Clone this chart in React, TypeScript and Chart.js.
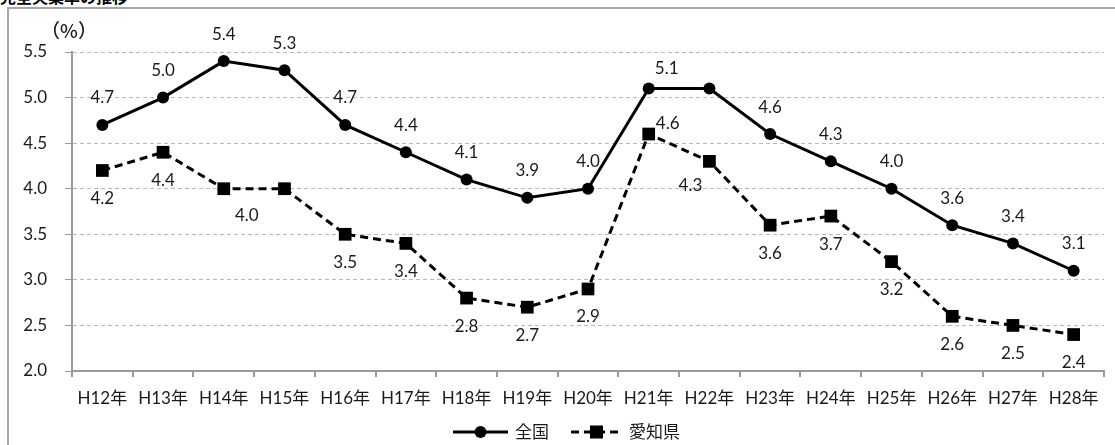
import React, { useEffect, useRef } from "react";
import { Chart, registerables } from "chart.js";

Chart.register(...registerables);

const categories = ["H12年", "H13年", "H14年", "H15年", "H16年", "H17年", "H18年", "H19年", "H20年", "H21年", "H22年", "H23年", "H24年", "H25年", "H26年", "H27年", "H28年"];
const nationalValues = [4.7, 5.0, 5.4, 5.3, 4.7, 4.4, 4.1, 3.9, 4.0, 5.1, 5.1, 4.6, 4.3, 4.0, 3.6, 3.4, 3.1];
const aichiValues = [4.2, 4.4, 4.0, 4.0, 3.5, 3.4, 2.8, 2.7, 2.9, 4.6, 4.3, 3.6, 3.7, 3.2, 2.6, 2.5, 2.4];
const nationalLabelPlacement = ["above", "above", "above", "above", "above", "above", "above", "above", "above", "aboveRight", "none", "above", "above", "above", "above", "above", "above"];
const aichiLabelPlacement = ["below", "below", "belowRight", "none", "below", "below", "below", "below", "below", "right", "belowLeft", "below", "below", "below", "below", "below", "below"];
const seriesNames = ["全国", "愛知県"];
const yMin = 2.0;
const yMax = 5.5;
const yStep = 0.5;
const unitLabel = "（%）";
const titleText = "完全失業率の推移";

const FONT_FAMILY = 'Lato, "Noto Sans CJK JP", sans-serif';
const CJK_FAMILY = '"Noto Sans CJK JP", sans-serif';
const TEXT_COLOR = "#1a1a1a";
const AXIS_COLOR = "#9a9a9a";

const placementOffsets: Record<string, [number, number]> = {
  above: [0, -27],
  below: [0, 28],
  aboveRight: [18, -20],
  right: [19, -11],
  belowLeft: [-19, 24],
  belowRight: [23, 27],
};

const labelPlugin = {
  id: "pointLabels",
  afterDatasetsDraw(chart: any) {
    const ctx = chart.ctx;
    const placements = [nationalLabelPlacement, aichiLabelPlacement];
    ctx.save();
    ctx.font = `17px ${FONT_FAMILY}`;
    ctx.fillStyle = TEXT_COLOR;
    ctx.textAlign = "center";
    ctx.textBaseline = "middle";
    chart.data.datasets.forEach((ds: any, i: number) => {
      const meta = chart.getDatasetMeta(i);
      meta.data.forEach((pt: any, j: number) => {
        const p = placements[i][j];
        if (p === "none") return;
        const off = placementOffsets[p];
        ctx.fillText(Number(ds.data[j]).toFixed(1), pt.x + off[0], pt.y + off[1]);
      });
    });
    const area = chart.chartArea;
    ctx.font = `500 19px ${CJK_FAMILY}`;
    ctx.fillText(unitLabel, area.left - 3, area.top - 21);
    ctx.restore();
  },
};

const legendPlugin = {
  id: "customLegend",
  afterDraw(chart: any) {
    const ctx = chart.ctx;
    const y = 432;
    ctx.save();
    ctx.font = `17px ${FONT_FAMILY}`;
    ctx.textBaseline = "middle";
    ctx.textAlign = "left";
    const items = [
      { x0: 453, x1: 508, dash: [] as number[], marker: "circle", text: seriesNames[0] },
      { x0: 571, x1: 622, dash: [8, 5], marker: "rect", text: seriesNames[1] },
    ];
    items.forEach((it) => {
      ctx.strokeStyle = "#000";
      ctx.lineWidth = 3;
      ctx.setLineDash(it.dash);
      ctx.beginPath();
      ctx.moveTo(it.x0, y);
      ctx.lineTo(it.x1, y);
      ctx.stroke();
      ctx.setLineDash([]);
      const cx = (it.x0 + it.x1) / 2;
      ctx.fillStyle = "#000";
      ctx.beginPath();
      if (it.marker === "circle") {
        ctx.arc(cx, y, 6, 0, Math.PI * 2);
      } else {
        ctx.rect(cx - 6.5, y - 6.5, 13, 13);
      }
      ctx.fill();
      ctx.fillStyle = TEXT_COLOR;
      ctx.fillText(it.text, it.x1 + 7, y + 1);
    });
    ctx.restore();
  },
};

export default function App() {
  const canvasRef = useRef<HTMLCanvasElement | null>(null);

  useEffect(() => {
    if (!canvasRef.current) return;
    const chart = new Chart(canvasRef.current, {
      type: "line",
      data: {
        labels: categories,
        datasets: [
          {
            label: seriesNames[0],
            data: nationalValues,
            borderColor: "#000",
            backgroundColor: "#000",
            borderWidth: 3,
            pointStyle: "circle",
            pointRadius: 6,
            pointBorderWidth: 0,
            pointBackgroundColor: "#000",
            tension: 0,
          },
          {
            label: seriesNames[1],
            data: aichiValues,
            borderColor: "#000",
            backgroundColor: "#000",
            borderWidth: 3,
            borderDash: [8, 5],
            pointStyle: "rect",
            pointRadius: 9,
            pointBorderWidth: 0,
            pointBackgroundColor: "#000",
            tension: 0,
          },
        ],
      },
      options: {
        responsive: false,
        animation: false,
        devicePixelRatio: 1,
        layout: { padding: { top: 52, right: 11, left: 0, bottom: 0 }, autoPadding: false },
        plugins: {
          legend: { display: false },
          tooltip: { enabled: false },
        },
        scales: {
          x: {
            type: "category",
            offset: true,
            grid: {
              offset: true,
              drawOnChartArea: false,
              drawTicks: true,
              tickLength: 6,
              color: AXIS_COLOR,
              lineWidth: 2,
            },
            border: { color: AXIS_COLOR, width: 2 },
            ticks: {
              color: TEXT_COLOR,
              font: { family: FONT_FAMILY, size: 17 },
              padding: 11,
              maxRotation: 0,
              autoSkip: false,
            },
            afterFit(scale: any) {
              scale.height = 74;
            },
          },
          y: {
            min: yMin,
            max: yMax,
            grid: {
              color: "#b8b8b8",
              lineWidth: 1,
              drawTicks: true,
              tickLength: 7,
              tickColor: AXIS_COLOR,
              tickBorderDash: [],
            },
            border: { color: AXIS_COLOR, width: 2, dash: [4, 3] },
            ticks: {
              stepSize: yStep,
              color: TEXT_COLOR,
              font: { family: FONT_FAMILY, size: 17 },
              padding: 18,
              callback: (v: any) => Number(v).toFixed(1),
            },
            afterFit(scale: any) {
              scale.width = 72;
            },
          },
        },
      },
      plugins: [labelPlugin, legendPlugin],
    });
    return () => chart.destroy();
  }, []);

  return (
    <div style={{ position: "fixed", left: 0, top: 0, width: 1115, height: 445, overflow: "hidden", background: "#fff" }}>
      <div
        style={{
          position: "absolute",
          left: 0,
          top: -12,
          fontFamily: CJK_FAMILY,
          fontWeight: 700,
          fontSize: 16,
          lineHeight: "16px",
          color: "#000",
          whiteSpace: "nowrap",
        }}
      >
        {titleText}
      </div>
      <div
        style={{
          position: "absolute",
          left: 7,
          top: 7,
          width: 1120,
          height: 450,
          borderTop: "2px solid #a6a6a6",
          borderLeft: "2px solid #a6a6a6",
          boxSizing: "border-box",
        }}
      />
      <canvas ref={canvasRef} width={1115} height={445} style={{ position: "absolute", left: 0, top: 0, width: 1115, height: 445 }} />
    </div>
  );
}
